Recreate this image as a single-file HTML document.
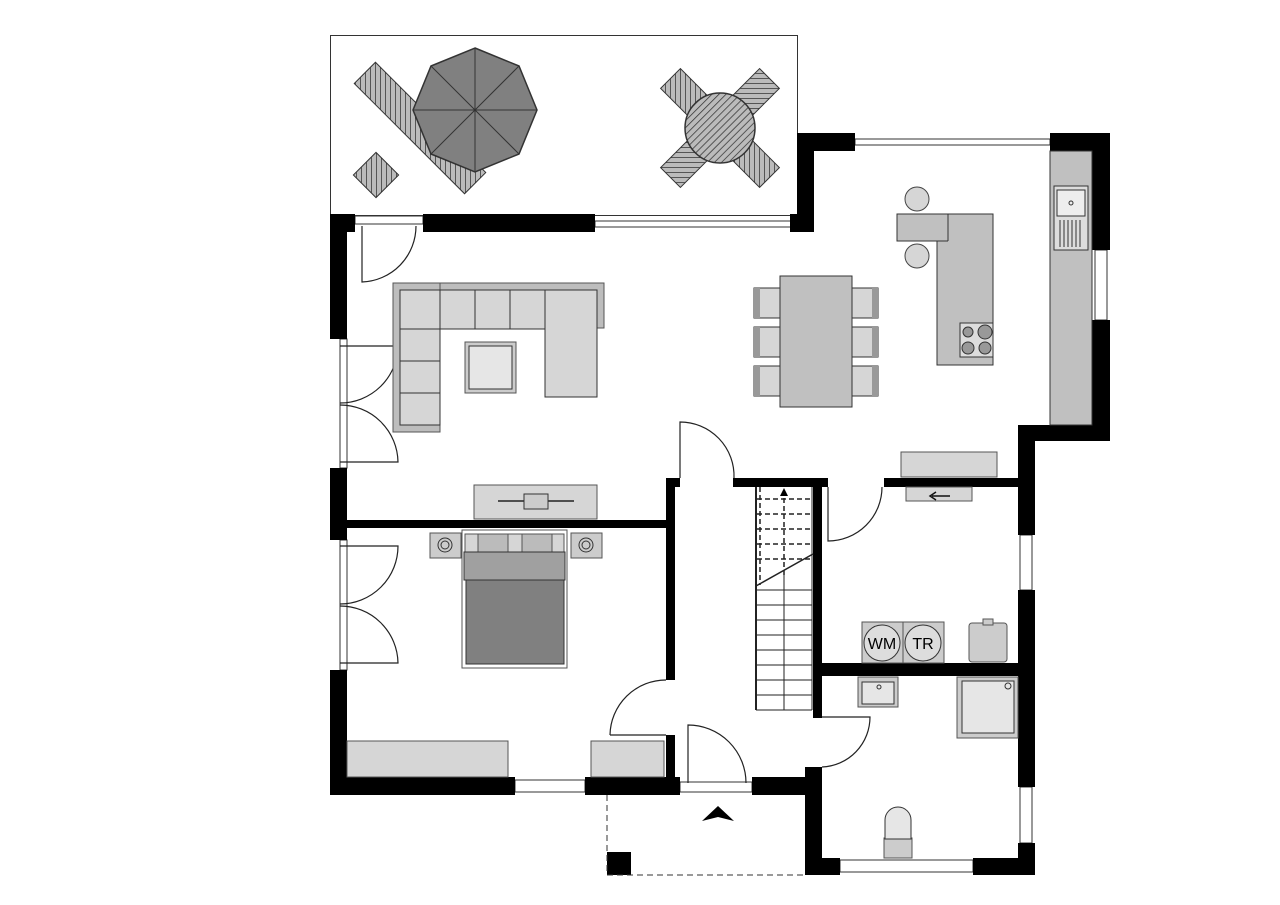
<!DOCTYPE html>
<html><head><meta charset="utf-8"><style>html,body{margin:0;padding:0;background:#fff}svg{display:block}</style></head>
<body>
<svg width="1280" height="905" viewBox="0 0 1280 905" xmlns="http://www.w3.org/2000/svg" font-family="Liberation Sans, sans-serif">
<defs>
<pattern id="h" width="5" height="5" patternUnits="userSpaceOnUse" patternTransform="rotate(45)"><rect width="5" height="5" fill="#bbb"/><line x1="0" y1="0" x2="0" y2="5" stroke="#333" stroke-width="1.5"/></pattern>
</defs>
<!-- terrace -->
<rect x="330.5" y="35.5" width="467" height="180" fill="none" stroke="#333"/>
<g transform="translate(420,128) rotate(-45)"><rect x="-15" y="-78" width="30" height="156" fill="url(#h)" stroke="#333"/></g>
<g transform="translate(376,175) rotate(-45)"><rect x="-16" y="-16" width="32" height="32" fill="url(#h)" stroke="#333"/></g>
<polygon points="475,48 519,66 537,110 519,154 475,172 431,154 413,110 431,66" fill="#808080" stroke="#333" stroke-width="1.5"/>
<g stroke="#333" stroke-width="1"><line x1="475" y1="48" x2="475" y2="172"/><line x1="413" y1="110" x2="537" y2="110"/><line x1="431" y1="66" x2="519" y2="154"/><line x1="519" y1="66" x2="431" y2="154"/></g>
<g transform="translate(720,128)">
<g transform="rotate(45)"><rect x="-14" y="-70" width="28" height="38" fill="url(#h)" stroke="#333"/></g>
<g transform="rotate(135)"><rect x="-14" y="-70" width="28" height="38" fill="url(#h)" stroke="#333"/></g>
<g transform="rotate(225)"><rect x="-14" y="-70" width="28" height="38" fill="url(#h)" stroke="#333"/></g>
<g transform="rotate(315)"><rect x="-14" y="-70" width="28" height="38" fill="url(#h)" stroke="#333"/></g>
<circle r="35" fill="url(#h)" stroke="#333" stroke-width="1.5"/>
</g>
<!-- windows thin -->
<g fill="#fff" stroke="#333" stroke-width="1">
<rect x="595" y="221" width="200" height="6"/>
<rect x="855" y="139" width="195" height="6"/>
<rect x="340" y="339" width="7" height="129"/>
<rect x="340" y="540" width="7" height="130"/>
<rect x="1095" y="250" width="12" height="70"/>
<rect x="1020" y="535" width="12" height="55"/>
<rect x="1020" y="787" width="12" height="56"/>
<rect x="840" y="860" width="133" height="12"/>
<rect x="515" y="780" width="70" height="12"/>
<rect x="680" y="782" width="72" height="10"/>
<rect x="355" y="216" width="68" height="8"/>
</g>
<!-- walls -->
<g fill="#000">
<rect x="330" y="214" width="17" height="125"/>
<rect x="330" y="214" width="25" height="18"/>
<rect x="423" y="214" width="172" height="18"/>
<rect x="330" y="468" width="17" height="72"/>
<rect x="330" y="670" width="17" height="125"/>
<rect x="330" y="777" width="185" height="18"/>
<rect x="585" y="777" width="95" height="18"/>
<rect x="752" y="777" width="70" height="18"/>
<rect x="347" y="520" width="326" height="8"/>
<rect x="666" y="478" width="9" height="202"/>
<rect x="666" y="478" width="14" height="9"/>
<rect x="666" y="735" width="9" height="60"/>
<rect x="733" y="478" width="95" height="9"/>
<rect x="884" y="478" width="151" height="9"/>
<rect x="813" y="478" width="9" height="240"/>
<rect x="813" y="663" width="222" height="13"/>
<rect x="805" y="767" width="17" height="108"/>
<rect x="805" y="858" width="35" height="17"/>
<rect x="973" y="858" width="62" height="17"/>
<rect x="1018" y="425" width="17" height="110"/>
<rect x="1018" y="590" width="17" height="197"/>
<rect x="1018" y="843" width="17" height="32"/>
<rect x="1018" y="425" width="92" height="16"/>
<rect x="1092" y="133" width="18" height="117"/>
<rect x="1092" y="320" width="18" height="121"/>
<rect x="1050" y="133" width="60" height="18"/>
<rect x="797" y="133" width="58" height="18"/>
<rect x="797" y="133" width="17" height="99"/>
<rect x="790" y="214" width="10" height="18"/>
<rect x="607" y="852" width="24" height="23"/>
</g>
<!-- porch -->
<path d="M607,795 V875 H805" fill="none" stroke="#333" stroke-dasharray="6,4"/>
<polygon points="718,806 734,821 718,817 702,821" fill="#000"/>
<!-- doors -->
<g fill="none" stroke="#222" stroke-width="1.2">
<path d="M362,226 V282 A56,56 0 0 0 416,226"/>
<path d="M340,346 H398 A58,58 0 0 1 340,403"/>
<path d="M340,462 H398 A58,58 0 0 0 340,405"/>
<path d="M340,546 H398 A58,58 0 0 1 340,604"/>
<path d="M340,663 H398 A58,58 0 0 0 340,606"/>
<path d="M680,478 V422 A54,54 0 0 1 734,478"/>
<path d="M610,735 H666 M610,735 A56,56 0 0 1 666,680"/>
<path d="M688,783 V725 A58,58 0 0 1 746,783"/>
<path d="M828,487 V541 A54,54 0 0 0 882,487"/>
<path d="M822,717 H870 A50,50 0 0 1 822,767"/>
</g>
<!-- sofa -->
<rect x="393" y="283" width="211" height="45" fill="#bdbdbd" stroke="#555"/>
<rect x="393" y="283" width="47" height="149" fill="#bdbdbd" stroke="#555"/>
<g fill="#d6d6d6" stroke="#333">
<rect x="400" y="290" width="40" height="39"/><rect x="440" y="290" width="35" height="39"/><rect x="475" y="290" width="35" height="39"/><rect x="510" y="290" width="35" height="39"/>
<rect x="545" y="290" width="52" height="107"/>
<rect x="400" y="329" width="40" height="32"/><rect x="400" y="361" width="40" height="32"/><rect x="400" y="393" width="40" height="32"/>
</g>
<rect x="465" y="342" width="51" height="51" fill="#ccc" stroke="#555"/><rect x="469" y="346" width="43" height="43" fill="#e6e6e6" stroke="#333"/>
<rect x="474" y="485" width="123" height="34" fill="#d6d6d6" stroke="#555"/>
<line x1="498" y1="501" x2="574" y2="501" stroke="#222" stroke-width="1.5"/><rect x="524" y="494" width="24" height="15" fill="#ccc" stroke="#333"/>
<!-- dining -->
<g fill="#d6d6d6" stroke="#333">
<rect x="754" y="288" width="26" height="30"/><rect x="754" y="327" width="26" height="30"/><rect x="754" y="366" width="26" height="30"/>
<rect x="852" y="288" width="26" height="30"/><rect x="852" y="327" width="26" height="30"/><rect x="852" y="366" width="26" height="30"/>
</g>
<g fill="#999"><rect x="754" y="288" width="6" height="30"/><rect x="754" y="327" width="6" height="30"/><rect x="754" y="366" width="6" height="30"/><rect x="872" y="288" width="6" height="30"/><rect x="872" y="327" width="6" height="30"/><rect x="872" y="366" width="6" height="30"/></g>
<rect x="780" y="276" width="72" height="131" fill="#c0c0c0" stroke="#333"/>
<!-- kitchen -->
<circle cx="917" cy="199" r="12" fill="#d6d6d6" stroke="#444"/>
<circle cx="917" cy="256" r="12" fill="#d6d6d6" stroke="#444"/>
<path d="M897,214 H993 V365 H937 V241 H897 Z" fill="#c0c0c0" stroke="#333"/>
<line x1="948" y1="214" x2="948" y2="241" stroke="#333"/><line x1="937" y1="241" x2="948" y2="241" stroke="#333"/>
<rect x="960" y="323" width="33" height="34" fill="#ddd" stroke="#333"/>
<g fill="#999" stroke="#333"><circle cx="968" cy="332" r="5"/><circle cx="985" cy="332" r="7"/><circle cx="968" cy="348" r="6"/><circle cx="985" cy="348" r="6"/></g>
<rect x="1050" y="151" width="42" height="274" fill="#c0c0c0" stroke="#333"/>
<rect x="1054" y="186" width="34" height="64" fill="#ddd" stroke="#333"/>
<rect x="1057" y="190" width="28" height="26" fill="#eee" stroke="#333"/><circle cx="1071" cy="203" r="2" fill="none" stroke="#333"/>
<g stroke="#333"><line x1="1060" y1="220" x2="1060" y2="247"/><line x1="1064" y1="220" x2="1064" y2="247"/><line x1="1068" y1="220" x2="1068" y2="247"/><line x1="1072" y1="220" x2="1072" y2="247"/><line x1="1076" y1="220" x2="1076" y2="247"/><line x1="1080" y1="220" x2="1080" y2="247"/></g>
<rect x="901" y="452" width="96" height="25" fill="#d6d6d6" stroke="#555"/>
<!-- utility -->
<rect x="906" y="487" width="66" height="14" fill="#d6d6d6" stroke="#555"/>
<path d="M950,496 H932 M936,492 L930,496 L936,500" fill="none" stroke="#111" stroke-width="1.5"/>
<rect x="862" y="622" width="41" height="41" fill="#ccc" stroke="#555"/><rect x="903" y="622" width="41" height="41" fill="#ccc" stroke="#555"/>
<circle cx="882" cy="643" r="18" fill="#ddd" stroke="#333"/><circle cx="923" cy="643" r="18" fill="#ddd" stroke="#333"/>
<text x="882" y="649" font-size="16" text-anchor="middle" fill="#000">WM</text>
<text x="923" y="649" font-size="16" text-anchor="middle" fill="#000">TR</text>
<rect x="969" y="623" width="38" height="39" rx="3" fill="#ccc" stroke="#555"/><rect x="983" y="619" width="10" height="6" fill="#ccc" stroke="#555"/>
<!-- stairs -->
<g stroke="#222" fill="none">
<line x1="756" y1="487" x2="756" y2="710" stroke-width="2"/>
<line x1="812" y1="487" x2="812" y2="710"/>
<g stroke-dasharray="5,3" stroke-width="1.5"><line x1="757" y1="499" x2="811" y2="499"/><line x1="757" y1="514" x2="811" y2="514"/><line x1="757" y1="529" x2="811" y2="529"/><line x1="757" y1="544" x2="811" y2="544"/><line x1="757" y1="559" x2="811" y2="559"/><line x1="784" y1="490" x2="784" y2="575"/><line x1="760" y1="487" x2="760" y2="585"/></g>
<line x1="756" y1="586" x2="813" y2="554" stroke-width="1.5"/>
<line x1="784" y1="572" x2="784" y2="710"/>
<line x1="757" y1="590" x2="812" y2="590"/><line x1="757" y1="605" x2="812" y2="605"/><line x1="757" y1="620" x2="812" y2="620"/><line x1="757" y1="635" x2="812" y2="635"/><line x1="757" y1="650" x2="812" y2="650"/><line x1="757" y1="665" x2="812" y2="665"/><line x1="757" y1="680" x2="812" y2="680"/><line x1="757" y1="695" x2="812" y2="695"/><line x1="756" y1="710" x2="812" y2="710"/>
</g>
<polygon points="784,488 780,496 788,496" fill="#000"/>
<!-- bath -->
<rect x="858" y="677" width="40" height="30" fill="#ccc" stroke="#555"/><rect x="862" y="682" width="32" height="22" fill="#e6e6e6" stroke="#333"/><circle cx="879" cy="687" r="2" fill="none" stroke="#333"/>
<rect x="957" y="677" width="61" height="61" fill="#ccc" stroke="#555"/><rect x="962" y="681" width="52" height="52" fill="#e6e6e6" stroke="#333"/><circle cx="1008" cy="686" r="3" fill="none" stroke="#333"/>
<rect x="884" y="838" width="28" height="20" fill="#ccc" stroke="#555"/>
<path d="M885,839 V820 A13,13 0 0 1 911,820 V839 Z" fill="#e6e6e6" stroke="#333"/>
<!-- bedroom -->
<rect x="430" y="533" width="31" height="25" fill="#ccc" stroke="#555"/><circle cx="445" cy="545" r="7" fill="none" stroke="#333"/><circle cx="445" cy="545" r="4" fill="none" stroke="#333"/>
<rect x="571" y="533" width="31" height="25" fill="#ccc" stroke="#555"/><circle cx="586" cy="545" r="7" fill="none" stroke="#333"/><circle cx="586" cy="545" r="4" fill="none" stroke="#333"/>
<rect x="462" y="530" width="105" height="138" fill="#fff" stroke="#555"/>
<rect x="465" y="534" width="99" height="18" fill="#d6d6d6" stroke="#555"/>
<rect x="478" y="534" width="30" height="18" fill="#bbb" stroke="#555"/><rect x="522" y="534" width="30" height="18" fill="#bbb" stroke="#555"/>
<rect x="466" y="580" width="98" height="84" fill="#808080" stroke="#333"/>
<rect x="464" y="552" width="101" height="28" fill="#a0a0a0" stroke="#333"/>
<rect x="347" y="741" width="161" height="36" fill="#d6d6d6" stroke="#555"/>
<rect x="591" y="741" width="73" height="36" fill="#d6d6d6" stroke="#555"/>
</svg>
</body></html>
